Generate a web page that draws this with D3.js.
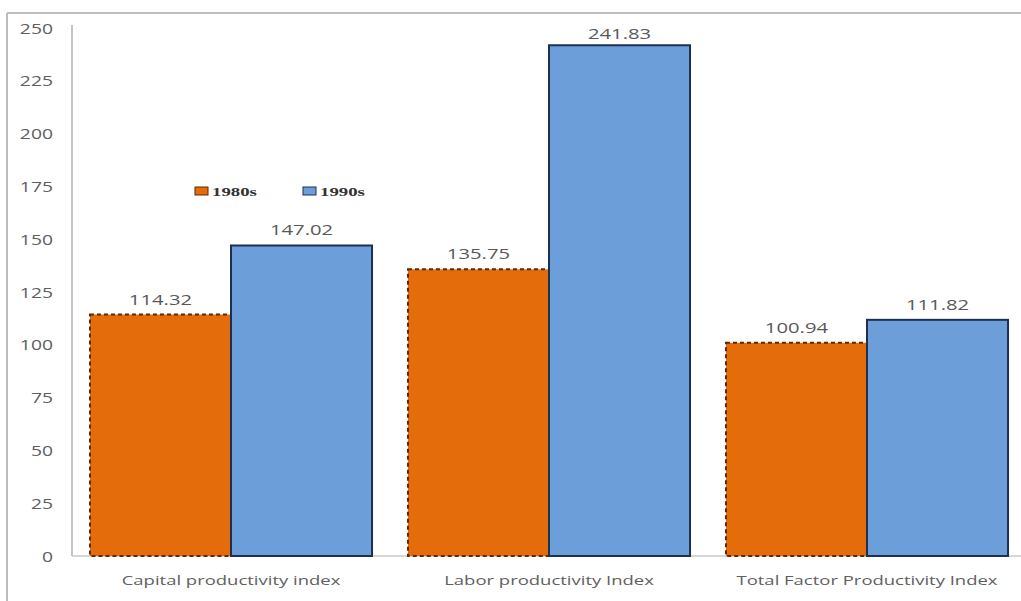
<!DOCTYPE html>
<html><head><meta charset="utf-8">
<script src="https://cdn.jsdelivr.net/npm/d3@7"></script>
<style>body{margin:0;background:#fff;}svg{display:block;}</style>
</head><body>
<svg id="chart" width="1021" height="601"></svg>
<script>
const categories = ["Capital productivity index", "Labor productivity Index", "Total Factor Productivity Index"];
const seriesNames = ["1980s", "1990s"];
const values1980s = [114.32, 135.75, 100.94];
const values1990s = [147.02, 241.83, 111.82];
const yTicks = [0, 25, 50, 75, 100, 125, 150, 175, 200, 225, 250];

(function () {
const svg = d3.select("#chart");
const mLeft = 72, mRight = 1026, mTop = 28, mBottom = 556;

// horizontally stretch text (the reference is a widened scan)
function stretch(sel, k) {
  sel.each(function () {
    const len = this.getComputedTextLength();
    d3.select(this).attr("textLength", len * k).attr("lengthAdjust", "spacingAndGlyphs");
  });
}

// outer frame
svg.append("line").attr("x1", 7).attr("x2", 1021).attr("y1", 13).attr("y2", 13).attr("stroke", "#bdbdbd").attr("stroke-width", 2);
svg.append("line").attr("x1", 7).attr("x2", 7).attr("y1", 13).attr("y2", 601).attr("stroke", "#bdbdbd").attr("stroke-width", 2);

const x0 = d3.scaleBand().domain(categories).range([mLeft, mRight]).paddingInner(0.113).paddingOuter(0.0565);
const x1 = d3.scaleBand().domain(seriesNames).range([0, x0.bandwidth()]);
const y = d3.scaleLinear().domain([0, 250]).range([mBottom, mTop]);

// y axis
const yAxis = d3.axisLeft(y).tickValues(yTicks).tickSize(0).tickPadding(19);
const gy = svg.append("g").attr("transform", `translate(${mLeft},0)`).call(yAxis);
gy.select(".domain").attr("stroke", "#b0b0b0").attr("stroke-width", 1.5).attr("d", `M0,${mBottom}V25`);
gy.selectAll("text").attr("font-family", "'Open Sans', sans-serif").attr("font-size", 14).attr("fill", "#606060").attr("dy", "0.36em");
stretch(gy.selectAll("text"), 1.38);

// x axis
const xAxis = d3.axisBottom(x0).tickSize(0).tickPadding(20).tickSizeOuter(0);
const gx = svg.append("g").attr("transform", `translate(0,${mBottom})`).call(xAxis);
gx.select(".domain").attr("stroke", "#c8c8c8").attr("stroke-width", 1.5).attr("d", `M${mLeft},0H${mRight}`);
gx.selectAll("text").attr("font-family", "'Open Sans', sans-serif").attr("font-size", 13).attr("fill", "#606060");
stretch(gx.selectAll("text"), 1.42);

const data = categories.map((c, i) => ({cat: c, vals: [
  {s: "1980s", v: values1980s[i]}, {s: "1990s", v: values1990s[i]}]}));

const colors = {"1980s": "#e46c0a", "1990s": "#6c9fda"};
const strokes = {"1980s": "#5a2a0a", "1990s": "#1f2f50"};

const groups = svg.append("g").selectAll("g").data(data).join("g")
  .attr("transform", d => `translate(${x0(d.cat)},0)`);

groups.selectAll("rect").data(d => d.vals).join("rect")
  .attr("x", d => x1(d.s))
  .attr("width", x1.bandwidth())
  .attr("y", d => y(d.v))
  .attr("height", d => mBottom - y(d.v))
  .attr("fill", d => colors[d.s])
  .attr("stroke", d => strokes[d.s])
  .attr("stroke-width", 2)
  .attr("stroke-dasharray", d => d.s === "1980s" ? "4,3" : null);

const lbls = groups.selectAll("text.lbl").data(d => d.vals).join("text")
  .attr("class", "lbl")
  .attr("x", d => x1(d.s) + x1.bandwidth() / 2)
  .attr("y", d => Math.max(y(d.v) - 10, mTop + 11))
  .attr("text-anchor", "middle")
  .attr("font-family", "'Open Sans', sans-serif")
  .attr("font-size", 15)
  .attr("fill", "#595959")
  .text(d => d.v.toFixed(2));
stretch(lbls, 1.35);

// legend
const legend = svg.append("g").attr("transform", "translate(195,191)");
const legItems = legend.selectAll("g").data(seriesNames).join("g")
  .attr("transform", (d, i) => `translate(${i * 108},0)`);
legItems.append("rect").attr("x", 0).attr("y", -4).attr("width", 13).attr("height", 8)
  .attr("fill", d => colors[d]).attr("stroke", d => strokes[d]).attr("stroke-width", 1);
const legText = legItems.append("text").attr("x", 17).attr("y", 4.5)
  .attr("font-family", "'Liberation Serif', serif").attr("font-weight", "bold")
  .attr("font-size", 12.5).attr("fill", "#333").text(d => d);
stretch(legText, 1.5);
})();
</script>
</body></html>
